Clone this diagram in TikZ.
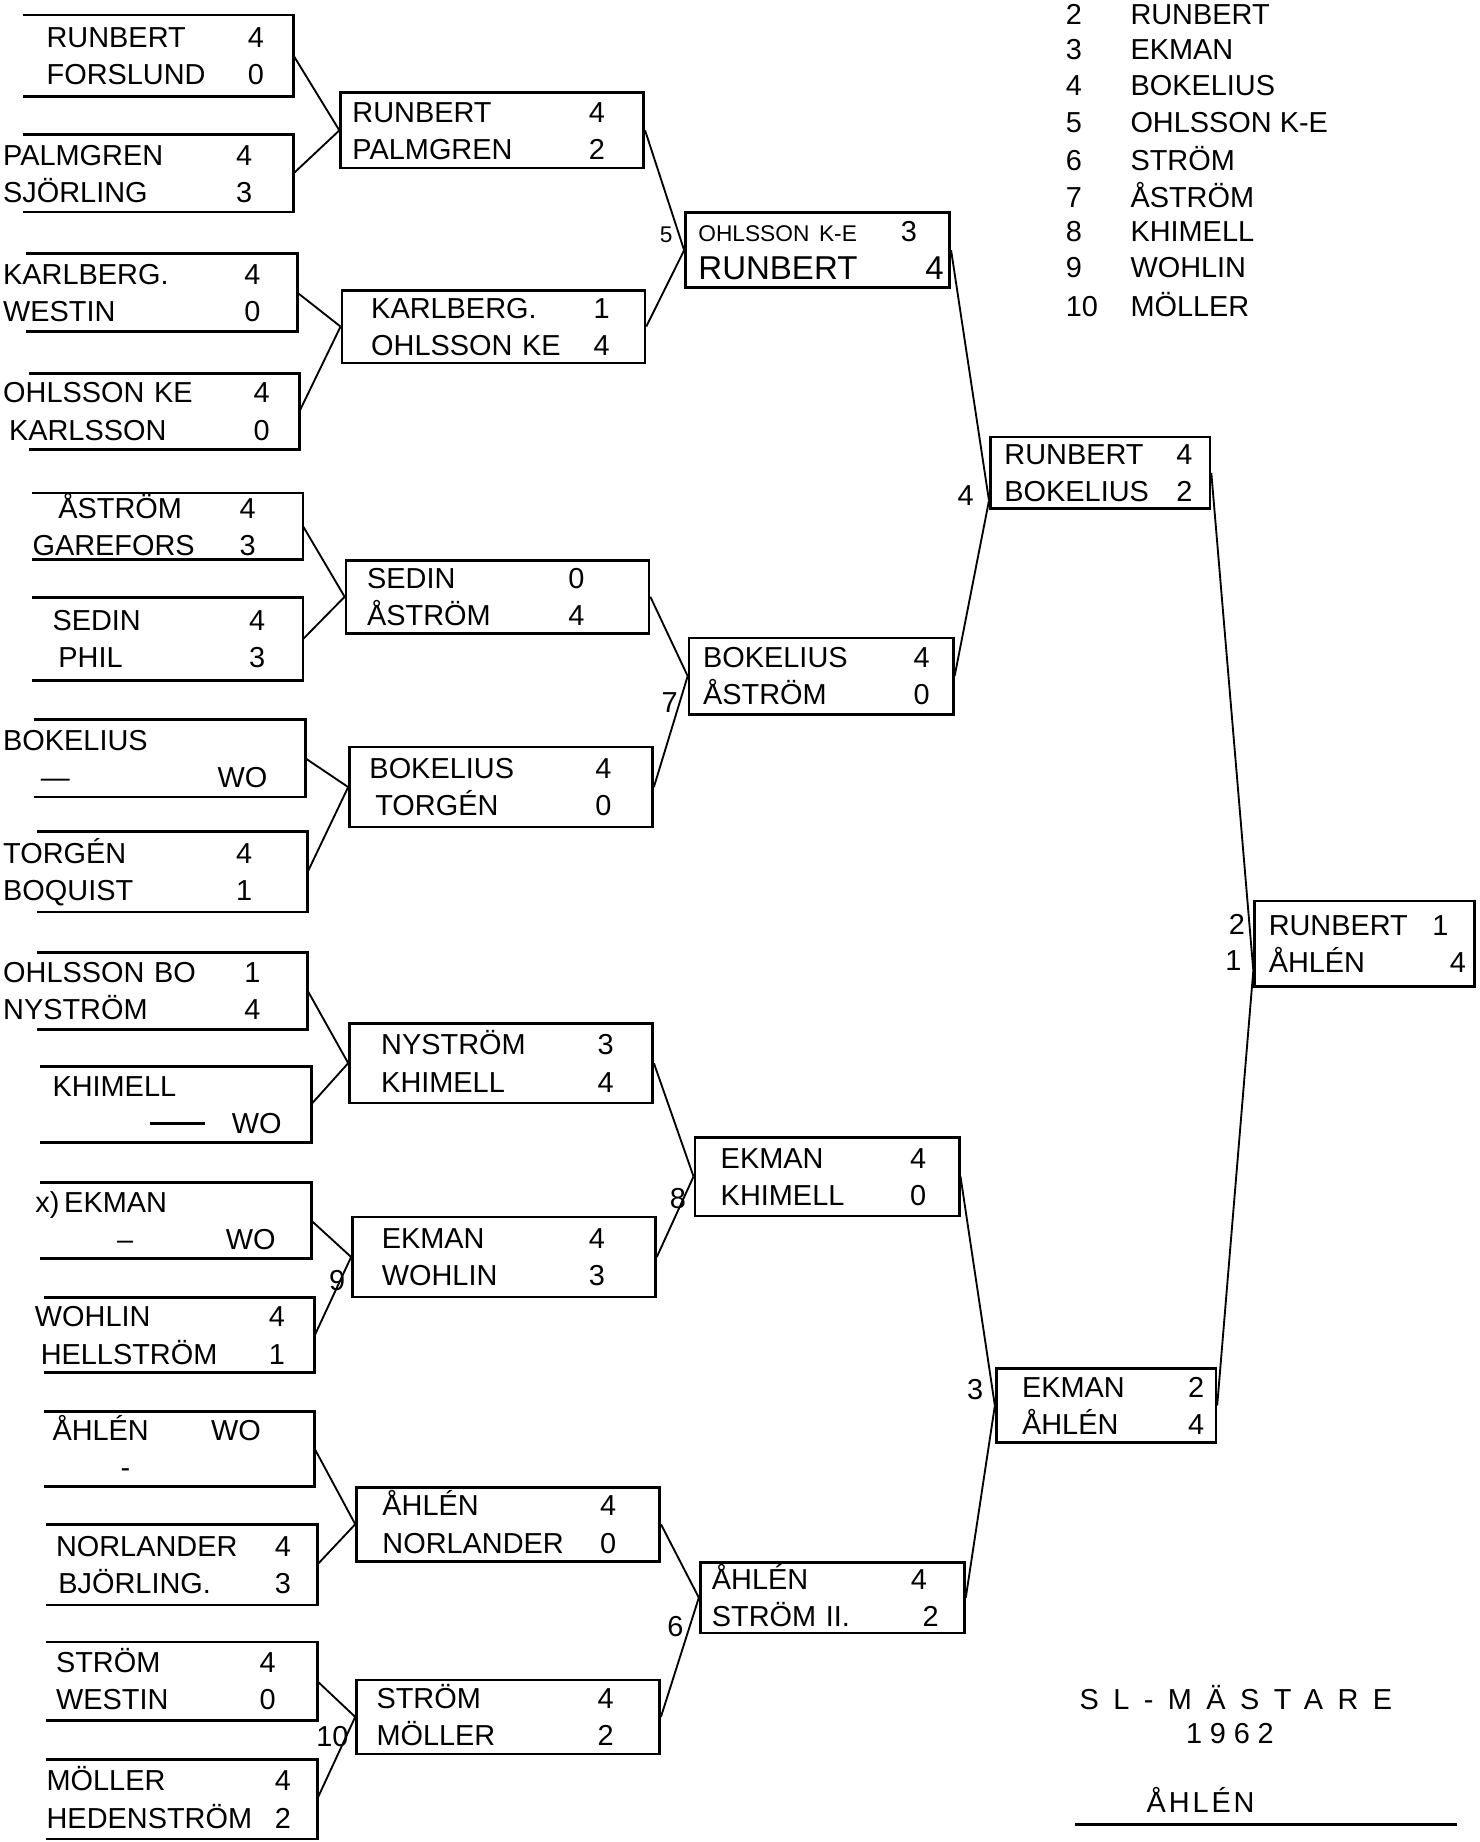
\documentclass[tikz,border=0pt]{standalone}
\usepackage{fontspec}
\setmainfont{Liberation Sans}
\usetikzlibrary{positioning}

\newcommand\mano{\fontsize{14}{18}\selectfont}
% dos filas: nombre a la izquierda, puntos a la derecha
\NewDocumentCommand\pareja{O{0cm} O{0.5cm} m m m m}{%
  \noindent\smash{\raisebox{4pt}{%
  \begin{tabular*}{\hsize}[t]{@{\hspace{#1}}l@{\extracolsep{\fill}}r@{}}
    #3 & #4\hspace*{#2}\\
    #5 & #6\hspace*{#2}
  \end{tabular*}}}}

\begin{document}
\begin{tikzpicture}[x=0.02cm, y=-0.02cm,
  every node/.style={inner sep=0pt, font=\mano},
  abierta/.style={minimum width=4.6cm, text width=4.6cm, anchor=east},
  caja2/.style={draw, line width=1.3pt, minimum width=5.16cm, text width=5.16cm},
  caja3/.style={draw, line width=1.3pt, minimum width=4.5cm, text width=4.5cm},
  caja4/.style={draw, line width=1.3pt, minimum width=3.74cm, text width=3.74cm},
  borde/.style={line width=1.3pt},
  rama/.style={line width=0.9pt}
]
\useasboundingbox (0,0) rectangle (1259,1568);

% -------- Primera ronda --------
\node[abierta, minimum height=1.38cm] (p1) at (250,47.5) {\pareja[0.4cm][0.5cm]{RUNBERT}{4}{FORSLUND}{0}};
\node[abierta, minimum height=1.3cm] (p2) at (250,147.5) {\pareja[-0.34cm][0.7cm]{PALMGREN}{4}{SJÖRLING}{3}};
\node[abierta, minimum height=1.32cm] (p3) at (253,249) {\pareja[-0.4cm][0.62cm]{KARLBERG.}{4}{WESTIN}{0}};
\node[abierta, minimum height=1.28cm] (p4) at (255,350) {\pareja[-0.44cm][0.5cm]{OHLSSON KE}{4}{\hspace{0.1cm}KARLSSON}{0}};
\node[abierta, minimum height=1.12cm] (p5) at (258,448) {\pareja[0cm][0.8cm]{\hspace{0.44cm}ÅSTRÖM}{4}{GAREFORS}{3}};
\node[abierta, minimum height=1.4cm] (p6) at (258,544) {\pareja[0.34cm][0.64cm]{SEDIN}{4}{\hspace{0.1cm}PHIL}{3}};
\node[abierta, minimum height=1.3cm] (p7) at (260,645.5) {\pareja[-0.54cm][0.64cm]{BOKELIUS}{}{\hspace{0.64cm}—}{WO}};
\node[abierta, minimum height=1.36cm] (p8) at (262,742) {\pareja[-0.58cm][0.94cm]{TORGÉN}{4}{BOQUIST}{1}};
\node[abierta, minimum height=1.3cm] (p9) at (262,843.5) {\pareja[-0.58cm][0.8cm]{OHLSSON BO}{1}{NYSTRÖM}{4}};
\node[abierta, minimum height=1.28cm] (p10) at (265,940) {\pareja[0.2cm][0.5cm]{KHIMELL}{}{\hspace{1.66cm}\rule[4pt]{0.94cm}{1.2pt}}{WO}};
\node[abierta, minimum height=1.28cm] (p11) at (265,1039) {\pareja[0.4cm][0.6cm]{\llap{x)\,}EKMAN}{}{\hspace{0.9cm}–}{WO}};
\node[abierta, minimum height=1.26cm] (p12) at (268,1136.5) {\pareja[-0.16cm][0.5cm]{WOHLIN}{4}{\hspace{0.1cm}HELLSTRÖM}{1}};
\node[abierta, minimum height=1.26cm] (p13) at (268,1233.5) {\pareja[0.14cm]{ÅHLÉN\hspace{1.06cm}WO}{}{\hspace{1.16cm}-}{}};
\node[abierta, minimum height=1.36cm] (p14) at (270,1332) {\pareja[0.16cm][0.44cm]{NORLANDER}{4}{\hspace{0.04cm}BJÖRLING.}{3}};
\node[abierta, minimum height=1.32cm] (p15) at (270,1431) {\pareja[0.16cm][0.7cm]{STRÖM}{4}{WESTIN}{0}};
\node[abierta, minimum height=1.34cm] (p16) at (270,1531.5) {\pareja[0cm][0.44cm]{MÖLLER}{4}{HEDENSTRÖM}{2}};

% cajas abiertas a la izquierda
\foreach \i in {1,...,16}
  \draw[borde] (p\i.north west) -- (p\i.north east) -- (p\i.south east) -- (p\i.south west);

% -------- Segunda ronda --------
\node[caja2, minimum height=1.28cm] (A) at (419,111) {\pareja[0.2cm][0.66cm]{RUNBERT}{4}{PALMGREN}{2}};
\node[caja2, minimum height=1.24cm] (B) at (420,278) {\pareja[0.5cm][0.6cm]{KARLBERG.}{1}{OHLSSON KE}{4}};
\node[caja2, minimum height=1.24cm] (C) at (423.5,508) {\pareja[0.36cm][1.1cm]{SEDIN}{0}{ÅSTRÖM}{4}};
\node[caja2, minimum height=1.36cm] (D) at (426.5,670) {\pareja[0.34cm][0.7cm]{BOKELIUS}{4}{\hspace{0.1cm}TORGÉN}{0}};
\node[caja2, minimum height=1.36cm] (E) at (426.5,905) {\pareja[0.54cm][0.66cm]{NYSTRÖM}{3}{KHIMELL}{4}};
\node[caja2, minimum height=1.36cm] (F) at (429,1070) {\pareja[0.5cm][0.86cm]{EKMAN}{4}{WOHLIN}{3}};
\node[caja2, minimum height=1.26cm] (G) at (432.5,1297.5) {\pareja[0.44cm][0.74cm]{ÅHLÉN}{4}{NORLANDER}{0}};
\node[caja2, minimum height=1.26cm] (H) at (432.5,1461.5) {\pareja[0.34cm][0.78cm]{STRÖM}{4}{MÖLLER}{2}};

% -------- Cuartos --------
\node[caja3, minimum height=1.28cm] (I) at (696,213) {\pareja[0.22cm][0.1cm]{{\fontsize{11}{18}\selectfont OHLSSON K-E}}{3\hspace*{0.46cm}}{{\fontsize{16}{18}\selectfont RUNBERT}}{{\fontsize{16}{18}\selectfont 4}}};
\node[caja3, minimum height=1.3cm] (J) at (699,575.5) {\pareja[0.24cm][0.4cm]{BOKELIUS}{4}{ÅSTRÖM}{0}};
\node[caja3, minimum height=1.34cm] (K) at (704,1001.5) {\pareja[0.44cm][0.56cm]{EKMAN}{4}{KHIMELL}{0}};
\node[caja3, minimum height=1.2cm] (L) at (708.5,1360) {\pareja[0.2cm][0.44cm]{ÅHLÉN}{4\hspace*{0.2cm}}{STRÖM II.}{2}};

% -------- Semifinales y final --------
\node[caja4, minimum height=1.22cm] (M) at (936.5,402.5) {\pareja[0.24cm][0.3cm]{RUNBERT}{4}{BOKELIUS}{2}};
\node[caja4, minimum height=1.26cm] (N) at (941.5,1196.5) {\pareja[0.44cm][0.2cm]{EKMAN}{2}{ÅHLÉN}{4}};
\node[caja4, minimum height=1.46cm] (O) at (1161.5,803.5) {\pareja[0.24cm][0.14cm]{RUNBERT}{1\hspace*{0.3cm}}{ÅHLÉN}{4}};

% Ramas
\draw[rama] (p1.east) -- (A.west);
\draw[rama] (p2.east) -- (A.west);
\draw[rama] (p3.east) -- (B.west);
\draw[rama] (p4.east) -- (B.west);
\draw[rama] (p5.east) -- (C.west);
\draw[rama] (p6.east) -- (C.west);
\draw[rama] (p7.east) -- (D.west);
\draw[rama] (p8.east) -- (D.west);
\draw[rama] (p9.east) -- (E.west);
\draw[rama] (p10.east) -- (E.west);
\draw[rama] (p11.east) -- (F.west);
\draw[rama] (p12.east) -- (F.west);
\draw[rama] (p13.east) -- (G.west);
\draw[rama] (p14.east) -- (G.west);
\draw[rama] (p15.east) -- (H.west);
\draw[rama] (p16.east) -- (H.west);
\draw[rama] (A.east) -- (I.west);
\draw[rama] (B.east) -- (I.west);
\draw[rama] (C.east) -- (J.west);
\draw[rama] (D.east) -- (J.west);
\draw[rama] (E.east) -- (K.west);
\draw[rama] (F.east) -- (K.west);
\draw[rama] (G.east) -- (L.west);
\draw[rama] (H.east) -- (L.west);
\draw[rama] (I.east) -- ([yshift=0.16cm]M.south west);
\draw[rama] (J.east) -- ([yshift=0.16cm]M.south west);
\draw[rama] (K.east) -- (N.west);
\draw[rama] (L.east) -- (N.west);
\draw[rama] (M.east) -- ([yshift=0.3cm]O.south west);
\draw[rama] (N.east) -- ([yshift=0.3cm]O.south west);

% Numeros de cabeza de serie
\node[font=\fontsize{11}{12}\selectfont] (s5) at (567,200) {5};
\node (s7) at (570,598) {7};
\node (s8) at (577,1020) {8};
\node (s6) at (575,1385) {6};
\node (s9) at (287,1090) {9};
\node (s10) at (283,1478) {10};
\node (s4) at (822,422) {4};
\node (s3) at (830,1183) {3};
\node (s2) at (1053,787) {2};
\node (s1) at (1050,818) {1};

% -------- Lista de cabezas de serie --------
\node[anchor=west] (l2) at (907,12) {\makebox[1.1cm][l]{2}RUNBERT};
\node[anchor=west] (l3) at (907,42) {\makebox[1.1cm][l]{3}EKMAN};
\node[anchor=west] (l4) at (907,73) {\makebox[1.1cm][l]{4}BOKELIUS};
\node[anchor=west] (l5) at (907,104) {\makebox[1.1cm][l]{5}OHLSSON K-E};
\node[anchor=west] (l6) at (907,135) {\makebox[1.1cm][l]{6}STRÖM};
\node[anchor=west] (l7) at (907,166) {\makebox[1.1cm][l]{7}ÅSTRÖM};
\node[anchor=west] (l8) at (907,197) {\makebox[1.1cm][l]{8}KHIMELL};
\node[anchor=west] (l9) at (907,228) {\makebox[1.1cm][l]{9}WOHLIN};
\node[anchor=west] (l10) at (907,259) {\makebox[1.1cm][l]{10}MÖLLER};

% -------- Campeon --------
\node (titulo) at (1052,1445) {\addfontfeature{LetterSpace=50}SL-MÄSTARE};
\node (anio) at (1047,1476) {\addfontfeature{LetterSpace=27}1962};
\node (campeon) at (1022,1532) {\addfontfeature{LetterSpace=10}ÅHLÉN};
\coordinate (u1) at (915,1553);
\coordinate (u2) at (1240,1553);
\draw[borde] (u1) -- (u2);

\end{tikzpicture}
\end{document}
